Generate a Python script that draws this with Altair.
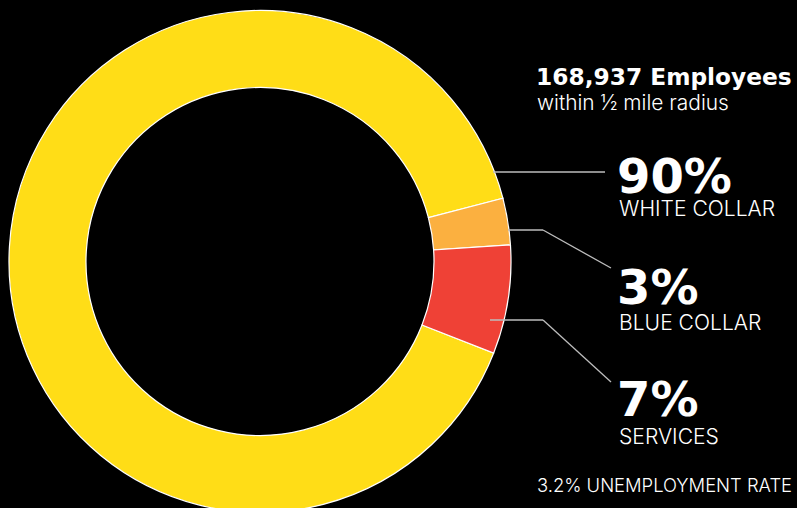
import math
import altair as alt
import pandas as pd

# ---- data ----
categories = ["WHITE COLLAR", "BLUE COLLAR", "SERVICES"]
shares = [90, 3, 7]
colors = ["#FFDD17", "#FBB040", "#EF4136"]
stack_order = [3, 1, 2]
headline = "168,937 Employees"
subhead = "within ½ mile radius"
footnote = "3.2% UNEMPLOYMENT RATE"

# ---- layout (page margin removed, so screen px == chart px) ----
W, H = 797, 508
CX, CY = 260, 261.5
R_OUT, R_IN = 251, 174
START = math.radians(75.4)
BOLD_FONT = "DejaVu Sans"
LIGHT_FONT = "Inter"

df = pd.DataFrame({"category": categories, "share": shares, "ord": stack_order})

arc = alt.Chart(df).mark_arc(
    radius=R_OUT, innerRadius=R_IN, stroke="white", strokeWidth=1.2
).encode(
    theta=alt.Theta("share:Q", stack=True,
                    scale=alt.Scale(domain=[0, sum(shares)], range=[START, START + 2 * math.pi])),
    color=alt.Color("category:N", scale=alt.Scale(domain=categories, range=colors), legend=None),
    order=alt.Order("ord:Q"),
    x=alt.value(CX), y=alt.value(CY),
)

segs = [
    (493, 172, 605, 172),
    (508, 230, 543, 230), (543, 230, 611, 268),
    (490, 320, 543, 320), (543, 320, 611, 382),
]
seg_df = pd.DataFrame([{"x": a, "y": b, "x2": c, "y2": d} for a, b, c, d in segs])
lines = alt.Chart(seg_df).mark_rule(color="#BDBDBD", strokeWidth=1.3).encode(
    x=alt.X("x:Q", scale=None), y=alt.Y("y:Q", scale=None),
    x2="x2:Q", y2="y2:Q",
)

pct_base = [193, 304, 416]
cat_base = [216, 330, 444]
pct_df = pd.DataFrame({"t": [f"{v}%" for v in shares], "x": [617] * 3, "y": pct_base})
cat_df = pd.DataFrame({"t": categories, "x": [619] * 3, "y": cat_base})

def text_layer(d, size, weight, font):
    return alt.Chart(d).mark_text(
        align="left", baseline="alphabetic", font=font, fontSize=size,
        fontWeight=weight, color="white"
    ).encode(x=alt.X("x:Q", scale=None), y=alt.Y("y:Q", scale=None), text="t:N")

pct_txt = text_layer(pct_df, 48, "bold", BOLD_FONT)
cat_txt = text_layer(cat_df, 21.1, 300, LIGHT_FONT)
head_txt = text_layer(pd.DataFrame({"t": [headline], "x": [536], "y": [85]}), 23.3, "bold", BOLD_FONT)
sub_txt = text_layer(pd.DataFrame({"t": [subhead], "x": [537], "y": [110]}), 20.9, 300, LIGHT_FONT)
foot_txt = text_layer(pd.DataFrame({"t": [footnote], "x": [537], "y": [492]}), 18.4, 300, LIGHT_FONT)

chart = alt.layer(arc, lines, pct_txt, cat_txt, head_txt, sub_txt, foot_txt).properties(
    width=W, height=H, padding=0, autosize=alt.AutoSizeParams(type="none"), background="black"
).configure_view(stroke=None)

chart.save("out.html", embed_options={"renderer": "svg", "actions": False,
                                      "defaultStyle": "body{margin:0;background:#000;overflow:hidden;}"})
